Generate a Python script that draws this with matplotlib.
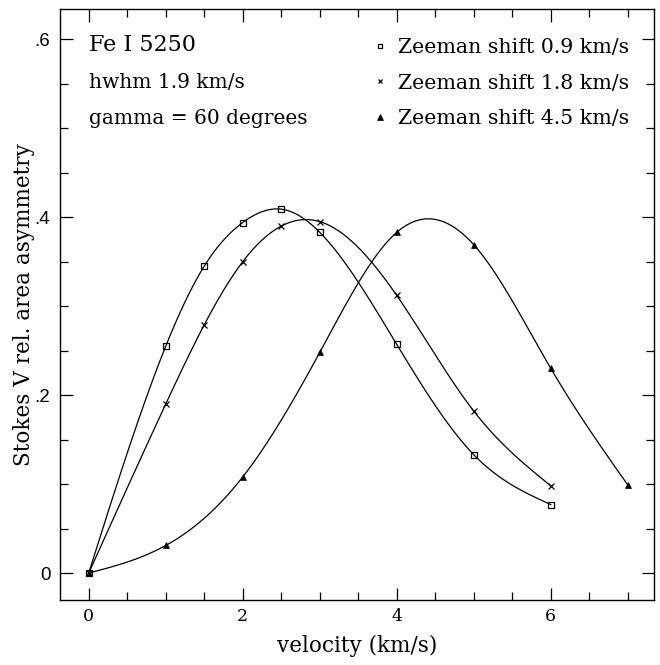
import numpy as np
import matplotlib
matplotlib.use("Agg")
import matplotlib.pyplot as plt

# ---- data ----
v_sq = [0, 1, 1.5, 2, 2.5, 3, 4, 5, 6]
a_sq = [0.0, 0.255, 0.345, 0.394, 0.409, 0.383, 0.257, 0.133, 0.077]
v_x = [0, 1, 1.5, 2, 2.5, 3, 4, 5, 6]
a_x = [0.0, 0.190, 0.279, 0.350, 0.390, 0.395, 0.312, 0.182, 0.098]
v_tr = [0, 1, 2, 3, 4, 5, 6, 7]
a_tr = [0.0, 0.031, 0.108, 0.248, 0.383, 0.369, 0.230, 0.099]
labels = ["Zeeman shift 0.9 km/s", "Zeeman shift 1.8 km/s", "Zeeman shift 4.5 km/s"]
xticks = [0, 2, 4, 6]
xticklabels = ["0", "2", "4", "6"]
yticks = [0, 0.2, 0.4, 0.6]
yticklabels = ["0", ".2", ".4", ".6"]
notes = ["Fe I 5250", "hwhm 1.9 km/s", "gamma = 60 degrees"]


def natural_spline(x, y, n=400):
    x = np.asarray(x, float); y = np.asarray(y, float)
    m = len(x); h = np.diff(x)
    A = np.zeros((m, m)); b = np.zeros(m)
    A[0, 0] = A[-1, -1] = 1
    for i in range(1, m - 1):
        A[i, i - 1] = h[i - 1]; A[i, i] = 2 * (h[i - 1] + h[i]); A[i, i + 1] = h[i]
        b[i] = 6 * ((y[i + 1] - y[i]) / h[i] - (y[i] - y[i - 1]) / h[i - 1])
    M = np.linalg.solve(A, b)
    xs = np.linspace(x[0], x[-1], n)
    idx = np.clip(np.searchsorted(x, xs) - 1, 0, m - 2)
    x0, x1 = x[idx], x[idx + 1]; hh = x1 - x0
    t0 = x1 - xs; t1 = xs - x0
    ys = (M[idx] * t0**3 + M[idx + 1] * t1**3) / (6 * hh) \
        + (y[idx] / hh - M[idx] * hh / 6) * t0 + (y[idx + 1] / hh - M[idx + 1] * hh / 6) * t1
    return xs, ys


fig = plt.figure(figsize=(6.6, 6.65), dpi=100)
ax = fig.add_axes([0.0909, 0.0977, 0.9000, 0.8888])

lw = 0.9
series = [(v_sq, a_sq, dict(marker="s", ms=4.2, mfc="none", mec="black", mew=0.9)),
          (v_x, a_x, dict(marker="x", ms=4.2, mec="black", mew=0.9)),
          (v_tr, a_tr, dict(marker="^", ms=4.5, mfc="black", mec="black", mew=0.5))]
handles = []
for (vx, ay, mk), lab in zip(series, labels):
    xs, ys = natural_spline(vx, ay)
    ax.plot(xs, ys, color="black", lw=lw)
    h, = ax.plot(vx, ay, ls="none", label=lab, **mk)
    handles.append(h)

ax.set_xlim(-0.373, 7.34)
ax.set_ylim(-0.0303, 0.634)

ax.set_xticks(xticks)
ax.set_xticklabels(xticklabels, fontfamily="DejaVu Serif", fontsize=12.5)
ax.set_xticks(np.arange(0, 7.01, 0.5), minor=True)
ax.set_yticks(yticks)
ax.set_yticklabels(yticklabels, fontfamily="Liberation Sans", fontsize=13.5)
ax.set_yticks(np.arange(0, 0.631, 0.05), minor=True)
ax.tick_params(which="both", direction="in", top=True, right=True, width=0.9, color="black")
ax.tick_params(which="major", length=9, pad=6)
ax.tick_params(axis="y", which="major", pad=7)
ax.tick_params(which="minor", length=5.5)
for s in ax.spines.values():
    s.set_linewidth(1.0)

ax.set_xlabel("velocity (km/s)", fontfamily="DejaVu Serif", fontsize=15.5, labelpad=7)
ax.set_ylabel("Stokes V rel. area asymmetry", fontfamily="DejaVu Serif", fontsize=15.5, labelpad=0)

ax.text(0.0, 0.593, notes[0], fontfamily="DejaVu Serif", fontsize=16, va="center", ha="left")
ax.text(0.0, 0.5517, notes[1], fontfamily="DejaVu Serif", fontsize=14.5, va="center", ha="left")
ax.text(0.0, 0.511, notes[2], fontfamily="DejaVu Serif", fontsize=14.5, va="center", ha="left")

leg = ax.legend(handles=handles, loc="upper right", bbox_to_anchor=(0.972, 0.965),
                frameon=False, handlelength=0.6, handletextpad=0.6, labelspacing=0.82,
                markerscale=0.85,
                prop={"family": "DejaVu Serif", "size": 14.75}, borderaxespad=0)

fig.savefig("out.png", dpi=100)
